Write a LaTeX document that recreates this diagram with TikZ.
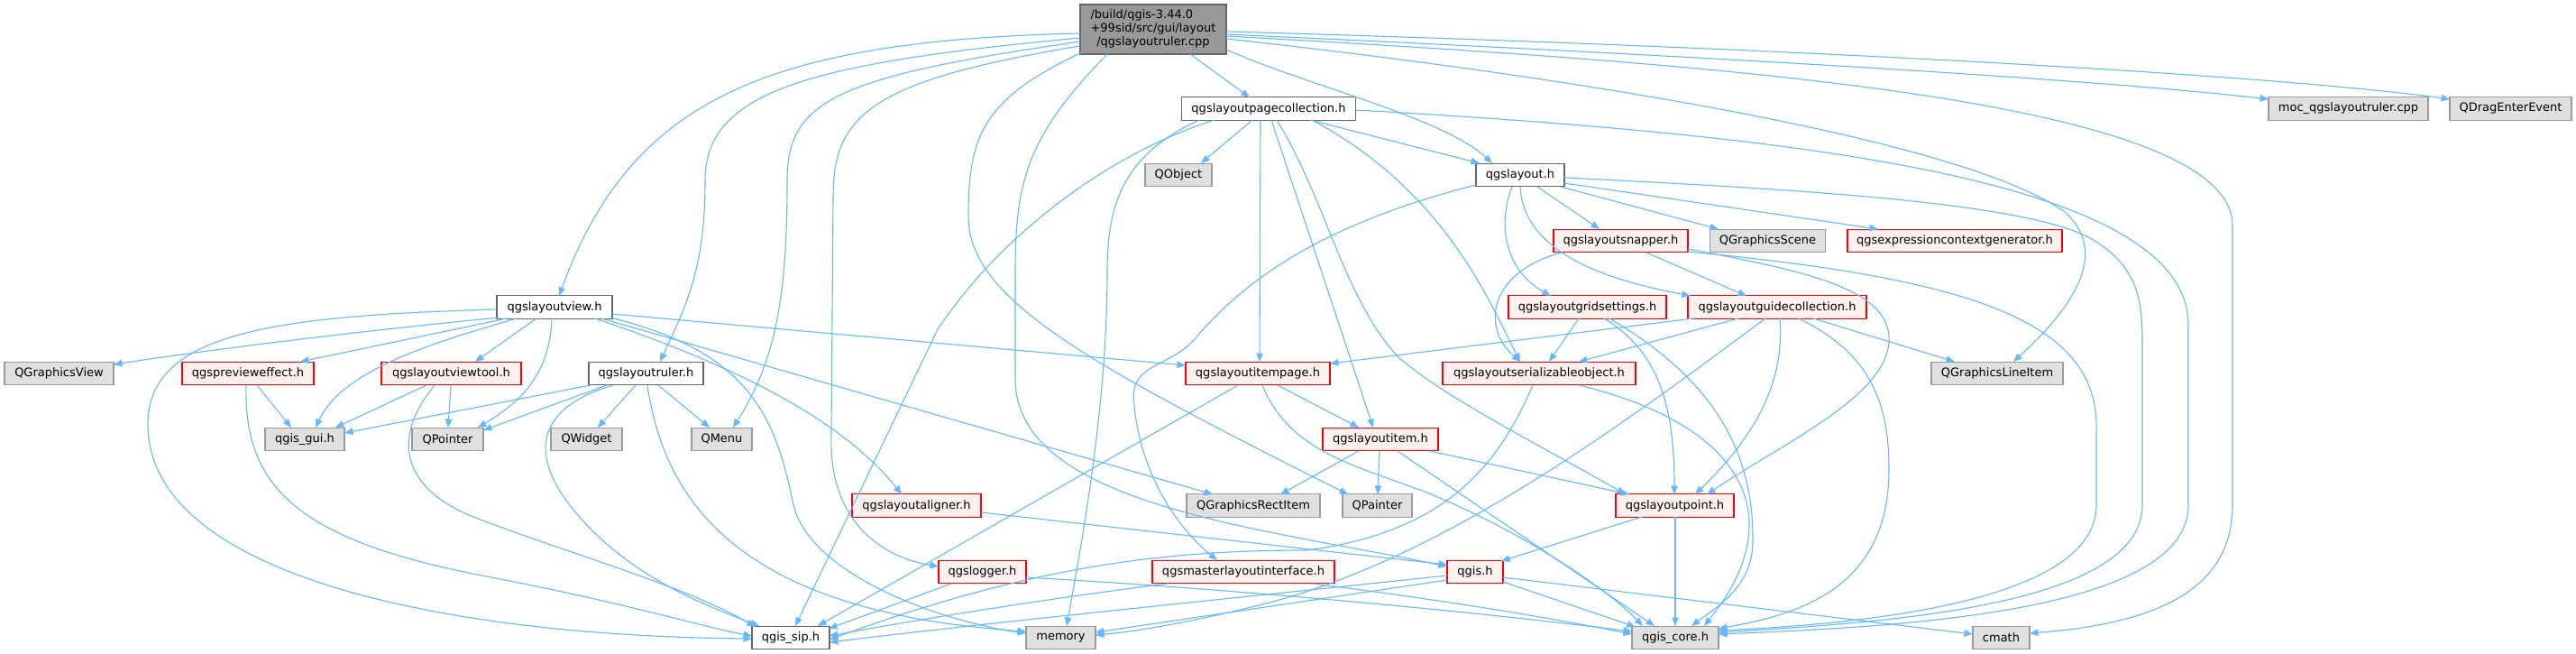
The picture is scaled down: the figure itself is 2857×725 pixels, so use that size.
\documentclass[tikz,border=0pt]{standalone}
\usepackage{fontspec}
\setmainfont{DejaVu Sans}
\usetikzlibrary{arrows.meta,calc}
\definecolor{edgec}{HTML}{63B8FF}
\definecolor{redfill}{HTML}{FFF0F0}
\definecolor{grayfill}{HTML}{E0E0E0}
\definecolor{graydraw}{HTML}{999999}
\definecolor{darkdraw}{HTML}{666666}
\definecolor{topfill}{HTML}{999999}
\begin{document}
\begin{tikzpicture}[x=1pt,y=-1pt,
  box/.style={rectangle, minimum height=25.5pt, inner sep=0pt, line width=1.3pt, font=\fontsize{13}{15}\selectfont, text=black},
  wbox/.style={box, draw=darkdraw, fill=white},
  rbox/.style={box, draw=red, fill=redfill},
  gbox/.style={box, draw=graydraw, fill=grayfill},
  e/.style={draw=edgec, line width=1.1pt, -{Triangle[length=9.5pt,width=7.5pt]}}
]
\fill[white] (0,0) rectangle (2857,725);
\useasboundingbox (0,0) rectangle (2857,725);

% nodes
\node[box,draw=darkdraw,fill=topfill,minimum width=162pt,minimum height=55pt] (T) at (1279,32.5) {\renewcommand{\arraystretch}{1}\begin{tabular}{@{}l@{}}/build/qgis-3.44.0\\+99sid/src/gui/layout\\\multicolumn{1}{@{}c@{}}{/qgslayoutruler.cpp}\end{tabular}};
\node[wbox,minimum width=193pt] (PC) at (1407,120.5) {qgslayoutpagecollection.h};
\node[gbox,minimum width=177pt] (MOC) at (2604.5,120.5) {moc\_qgslayoutruler.cpp};
\node[gbox,minimum width=135pt] (QDE) at (2784.5,120.5) {QDragEnterEvent};
\node[gbox,minimum width=74pt] (QO) at (1307,194) {QObject};
\node[wbox,minimum width=98pt] (L) at (1686,194) {qgslayout.h};
\node[rbox,minimum width=149pt] (SN) at (1797.5,267) {qgslayoutsnapper.h};
\node[gbox,minimum width=128pt] (GS) at (1960.5,267) {QGraphicsScene};
\node[rbox,minimum width=238pt] (EX) at (2168,267) {qgsexpressioncontextgenerator.h};
\node[wbox,minimum width=128pt] (V) at (615,340.5) {qgslayoutview.h};
\node[rbox,minimum width=175pt] (GR) at (1760.5,340.5) {qgslayoutgridsettings.h};
\node[rbox,minimum width=198pt] (GU) at (1971,340.5) {qgslayoutguidecollection.h};
\node[gbox,minimum width=121pt] (GV) at (65.5,414) {QGraphicsView};
\node[rbox,minimum width=146pt] (PE) at (275,414) {qgsprevieweffect.h};
\node[rbox,minimum width=155pt] (VT) at (500.5,414) {qgslayoutviewtool.h};
\node[wbox,minimum width=127pt] (R) at (716.5,414) {qgslayoutruler.h};
\node[rbox,minimum width=160pt] (IP) at (1395,414) {qgslayoutitempage.h};
\node[rbox,minimum width=214pt] (SO) at (1707,414) {qgslayoutserializableobject.h};
\node[gbox,minimum width=146pt] (LI) at (2215,414) {QGraphicsLineItem};
\node[gbox,minimum width=88pt] (GUI) at (338,487) {qgis\_gui.h};
\node[gbox,minimum width=79pt] (QP) at (496.5,487) {QPointer};
\node[gbox,minimum width=79pt] (QW) at (650.5,487) {QWidget};
\node[gbox,minimum width=67pt] (QM) at (800.5,487) {QMenu};
\node[rbox,minimum width=128pt] (IT) at (1531,487) {qgslayoutitem.h};
\node[rbox,minimum width=143pt] (AL) at (1016.5,560.5) {qgslayoutaligner.h};
\node[gbox,minimum width=148pt] (RI) at (1390,560.5) {QGraphicsRectItem};
\node[gbox,minimum width=77pt] (PA) at (1527.5,560.5) {QPainter};
\node[rbox,minimum width=131pt] (PT) at (1857.5,560.5) {qgslayoutpoint.h};
\node[rbox,minimum width=97pt] (LG) at (1089.5,634) {qgslogger.h};
\node[rbox,minimum width=202pt] (MI) at (1379,634) {qgsmasterlayoutinterface.h};
\node[rbox,minimum width=62pt] (QG) at (1636,634) {qgis.h};
\node[wbox,minimum width=86pt] (SIP) at (877,707) {qgis\_sip.h};
\node[gbox,minimum width=77pt] (MEM) at (1176.5,707) {memory};
\node[gbox,minimum width=96pt] (CORE) at (1858,707) {qgis\_core.h};
\node[gbox,minimum width=63pt] (CM) at (2219.5,707) {cmath};

% edges from the top file
\draw[e] ($(T)+(-81,4.5)$) .. controls (850,45) and (700,110) .. ($(V)+(5,-12.5)$);
\draw[e] ($(T)+(-81,9.5)$) .. controls (900,70) and (782,100) .. (782,200) .. controls (782,300) and (760,340) .. ($(R)+(15.5,-13)$);
\draw[e] ($(T)+(-81,13.5)$) .. controls (930,85) and (873,110) .. (873,200) .. controls (873,330) and (860,400) .. ($(QM)+(12.5,-13)$);
\draw[e] ($(T)+(-81,18.5)$) .. controls (960,90) and (924,130) .. (924,220) -- (922,480) .. controls (918,580) and (980,618) .. ($(LG)+(-48.5,-6)$);
\draw[e] ($(T)+(-79,25.5)$) .. controls (1090,110) and (1074,150) .. (1074,240) .. controls (1074,330) and (1200,400) .. ($(PA)+(-32.5,-12.5)$);
\draw[e] ($(T)+(-51,27.5)$) .. controls (1140,150) and (1126,200) .. (1126,300) -- (1126,420) .. controls (1126,560) and (1400,585) .. ($(QG)+(-31,-6)$);
\draw[e] ($(T)+(41,27.5)$) -- ($(PC)+(-21,-12.5)$);
\draw[e] ($(T)+(81,22.5)$) .. controls (1450,95) and (1600,130) .. ($(L)+(-31,-13)$);
\draw[e] ($(T)+(81,10.5)$) .. controls (1700,80) and (2170,150) .. (2290,235) .. controls (2340,280) and (2300,340) .. ($(LI)+(18,-13)$);
\draw[e] ($(T)+(81,5.5)$) .. controls (1800,58) and (2300,85) .. ($(MOC)+(-88.5,-10.5)$);
\draw[e] ($(T)+(81,2.5)$) .. controls (1900,50) and (2500,80) .. ($(QDE)+(-67.5,-10.5)$);
\draw[e] ($(T)+(81,7.5)$) .. controls (1900,70) and (2476,110) .. (2476,250) -- (2476,560) .. controls (2476,660) and (2380,692) .. ($(CM)+(31.5,-5)$);

% qgslayoutview.h
\draw[e] ($(V)+(-62,11.5)$) .. controls (420,365) and (250,385) .. ($(GV)+(60.5,-10)$);
\draw[e] ($(V)+(-53,12.5)$) -- ($(PE)+(58,-13)$);
\draw[e] ($(V)+(-42,12.5)$) .. controls (480,380) and (380,410) .. ($(GUI)+(12,-13)$);
\draw[e] ($(V)+(-20,12.5)$) -- ($(VT)+(26.5,-13)$);
\draw[e] ($(V)+(-3,12.5)$) .. controls (610,420) and (570,450) .. ($(QP)+(33.5,-13)$);
\draw[e] ($(V)+(-64,2.5)$) .. controls (300,350) and (164,370) .. (164,470) .. controls (164,640) and (500,705) .. ($(SIP)+(-43,1)$);
\draw[e] ($(V)+(62,11.5)$) .. controls (830,390) and (860,460) .. (880,560) .. controls (900,640) and (1050,690) .. ($(MEM)+(-38.5,-5)$);
\draw[e] ($(V)+(52,12.5)$) -- ($(RI)+(-45,-12.5)$);
\draw[e] ($(V)+(45,12.5)$) .. controls (800,400) and (930,460) .. ($(AL)+(-16.5,-12.5)$);
\draw[e] ($(V)+(64,7.5)$) -- ($(IP)+(-80,-9)$);

% qgslayoutruler.h
\draw[e] ($(R)+(-61.5,13)$) -- ($(GUI)+(44,-7)$);
\draw[e] ($(R)+(-43.5,13)$) -- ($(QP)+(39.5,-10)$);
\draw[e] ($(R)+(-11.5,13)$) -- ($(QW)+(12.5,-13)$);
\draw[e] ($(R)+(13.5,13)$) -- ($(QM)+(-13.5,-13)$);
\draw[e] ($(R)+(-36.5,13)$) .. controls (600,450) and (580,500) .. (640,570) .. controls (700,640) and (780,670) .. ($(SIP)+(-35,-13)$);
\draw[e] ($(R)+(1.5,13)$) .. controls (740,580) and (850,680) .. ($(MEM)+(-38.5,-7)$);

% qgsprevieweffect.h
\draw[e] ($(PE)+(10,13)$) -- ($(GUI)+(-15,-13)$);
\draw[e] ($(PE)+(-2,13)$) .. controls (270,540) and (330,600) .. (545,640) .. controls (700,670) and (780,695) .. ($(SIP)+(-43,-2)$);

% qgslayoutviewtool.h
\draw[e] ($(VT)+(-27.5,13)$) -- ($(GUI)+(34,-13)$);
\draw[e] ($(VT)+(-0.5,13)$) -- ($(QP)+(0.5,-13)$);
\draw[e] ($(VT)+(-18.5,13)$) .. controls (430,490) and (450,545) .. (530,575) .. controls (650,620) and (760,650) .. ($(SIP)+(-39,-12)$);

% qgslayoutpagecollection.h
\draw[e] ($(PC)+(-18,12.5)$) -- ($(QO)+(25,-13)$);
\draw[e] ($(PC)+(46,12.5)$) -- ($(L)+(-45,-13)$);
\draw[e] ($(PC)+(-9,12.5)$) -- ($(IP)+(2,-13)$);
\draw[e] ($(PC)+(3,12.5)$) -- ($(IT)+(-8,-13)$);
\draw[e] ($(PC)+(9,12.5)$) .. controls (1470,220) and (1490,330) .. (1550,395) .. controls (1600,440) and (1720,500) .. ($(PT)+(-55,-12.5)$);
\draw[e] ($(PC)+(48,12.5)$) .. controls (1600,210) and (1650,330) .. ($(SO)+(-21,-13)$);
\draw[e] ($(PC)+(-60,12.5)$) .. controls (1230,170) and (1110,260) .. (1040,365) -- ($(SIP)+(5,-13)$);
\draw[e] ($(PC)+(-77,12.5)$) .. controls (1250,170) and (1228,220) .. (1228,300) .. controls (1228,450) and (1200,600) .. ($(MEM)+(6.5,-13)$);
\draw[e] ($(PC)+(97,1.5)$) .. controls (2000,150) and (2427,200) .. (2427,360) -- (2427,560) .. controls (2427,680) and (2100,695) .. ($(CORE)+(48,-4)$);

% qgslayout.h
\draw[e] ($(L)+(19,13)$) -- ($(SN)+(-23.5,-13)$);
\draw[e] ($(L)+(-9,13)$) .. controls (1660,250) and (1670,300) .. ($(GR)+(-40.5,-12.5)$);
\draw[e] ($(L)+(0,13)$) .. controls (1690,280) and (1780,310) .. ($(GU)+(-96,-12.5)$);
\draw[e] ($(L)+(45,13)$) -- ($(GS)+(-54.5,-13)$);
\draw[e] ($(L)+(49,9)$) -- ($(EX)+(-85,-13)$);
\draw[e] ($(L)+(49,3)$) .. controls (2000,210) and (2250,225) .. (2320,265) .. controls (2370,295) and (2376,330) .. (2376,380) -- (2376,560) .. controls (2376,670) and (2100,690) .. ($(CORE)+(48,-6)$);
\draw[e] ($(L)+(-49,11)$) .. controls (1500,240) and (1400,290) .. (1330,370) .. controls (1300,410) and (1250,400) .. (1258,450) .. controls (1265,520) and (1300,580) .. ($(MI)+(-29,-13)$);

% qgslayoutsnapper.h
\draw[e] ($(SN)+(-65.5,13)$) .. controls (1655,300) and (1640,360) .. ($(SO)+(-21,-13)$);
\draw[e] ($(SN)+(28.5,13)$) -- ($(GU)+(-34,-12.5)$);
\draw[e] ($(SN)+(74.5,9)$) .. controls (2000,300) and (2100,320) .. (2095,380) .. controls (2090,440) and (1980,490) .. ($(PT)+(35.5,-12.5)$);
\draw[e] ($(SN)+(74.5,12)$) .. controls (2200,310) and (2330,360) .. (2325,480) -- (2325,560) .. controls (2325,660) and (2100,690) .. ($(CORE)+(48,-8)$);

% qgslayoutgridsettings.h
\draw[e] ($(GR)+(-9.5,12.5)$) -- ($(SO)+(11,-13)$);
\draw[e] ($(GR)+(18.5,12.5)$) .. controls (1840,390) and (1857,450) .. ($(PT)+(-0.5,-12.5)$);
\draw[e] ($(GR)+(24.5,12.5)$) .. controls (1900,420) and (1945,500) .. (1944,600) .. controls (1944,650) and (1905,672) .. ($(CORE)+(18,-13)$);

% qgslayoutguidecollection.h
\draw[e] ($(GU)+(-93,12.5)$) -- ($(IP)+(80,-11)$);
\draw[e] ($(GU)+(-43,12.5)$) -- ($(SO)+(44,-13)$);
\draw[e] ($(GU)+(-13,12.5)$) .. controls (1800,470) and (1600,620) .. (1400,670) .. controls (1320,690) and (1260,700) .. ($(MEM)+(38.5,-3)$);
\draw[e] ($(GU)+(3,12.5)$) .. controls (1980,430) and (1940,490) .. ($(PT)+(22.5,-12.5)$);
\draw[e] ($(GU)+(24,12.5)$) .. controls (2070,390) and (2095,440) .. (2095,520) .. controls (2095,650) and (2000,680) .. ($(CORE)+(48,-10)$);
\draw[e] ($(GU)+(40,12.5)$) -- ($(LI)+(-47,-13)$);

% qgslayoutserializableobject.h
\draw[e] ($(SO)+(-7,13)$) .. controls (1660,520) and (1600,590) .. (1450,610) .. controls (1300,610) and (1150,625) .. ($(SIP)+(43,2)$);
\draw[e] ($(SO)+(44,13)$) .. controls (1930,470) and (1990,570) .. ($(CORE)+(32,-13)$);

% qgslayoutitempage.h
\draw[e] ($(IP)+(22,13)$) -- ($(IT)+(-24,-13)$);
\draw[e] ($(IP)+(-22,13)$) -- ($(SIP)+(30,-13)$);
\draw[e] ($(IP)+(5,13)$) .. controls (1430,500) and (1500,515) .. (1580,545) .. controls (1680,585) and (1780,650) .. ($(CORE)+(-36,-13)$);

% qgslayoutitem.h
\draw[e] ($(IT)+(-24,13)$) -- ($(RI)+(30,-12.5)$);
\draw[e] ($(IT)+(-1,13)$) -- ($(PA)+(0.5,-12.5)$);
\draw[e] ($(IT)+(55,13)$) -- ($(PT)+(-50.5,-12.5)$);
\draw[e] ($(IT)+(19,13)$) -- ($(CORE)+(-23,-13)$);

% qgslayoutpoint.h
\draw[e] ($(PT)+(-36.5,12.5)$) -- ($(QG)+(29,-12)$);
\draw[e] ($(PT)+(0.5,12.5)$) -- ($(CORE)+(0,-13)$);

% qgslayoutaligner.h
\draw[e] ($(AL)+(71.5,7.5)$) -- ($(QG)+(-31,-8)$);

% qgslogger.h
\draw[e] ($(LG)+(-34.5,13)$) -- ($(SIP)+(42,-10)$);
\draw[e] ($(LG)+(48.5,6)$) .. controls (1400,655) and (1650,680) .. ($(CORE)+(-48,-7)$);

% qgsmasterlayoutinterface.h
\draw[e] ($(MI)+(-84,13)$) .. controls (1150,665) and (1000,690) .. ($(SIP)+(43,-2)$);
\draw[e] ($(MI)+(77,13)$) .. controls (1600,665) and (1720,685) .. ($(CORE)+(-48,-4)$);

% qgis.h
\draw[e] ($(QG)+(-31,4)$) .. controls (1350,665) and (1100,690) .. ($(SIP)+(43,5)$);
\draw[e] ($(QG)+(-31,9)$) -- ($(MEM)+(38.5,-6)$);
\draw[e] ($(QG)+(31,6)$) -- ($(CM)+(-31.5,-4)$);
\draw[e] ($(QG)+(31,11)$) -- ($(CORE)+(-44,-12)$);
\end{tikzpicture}
\end{document}
